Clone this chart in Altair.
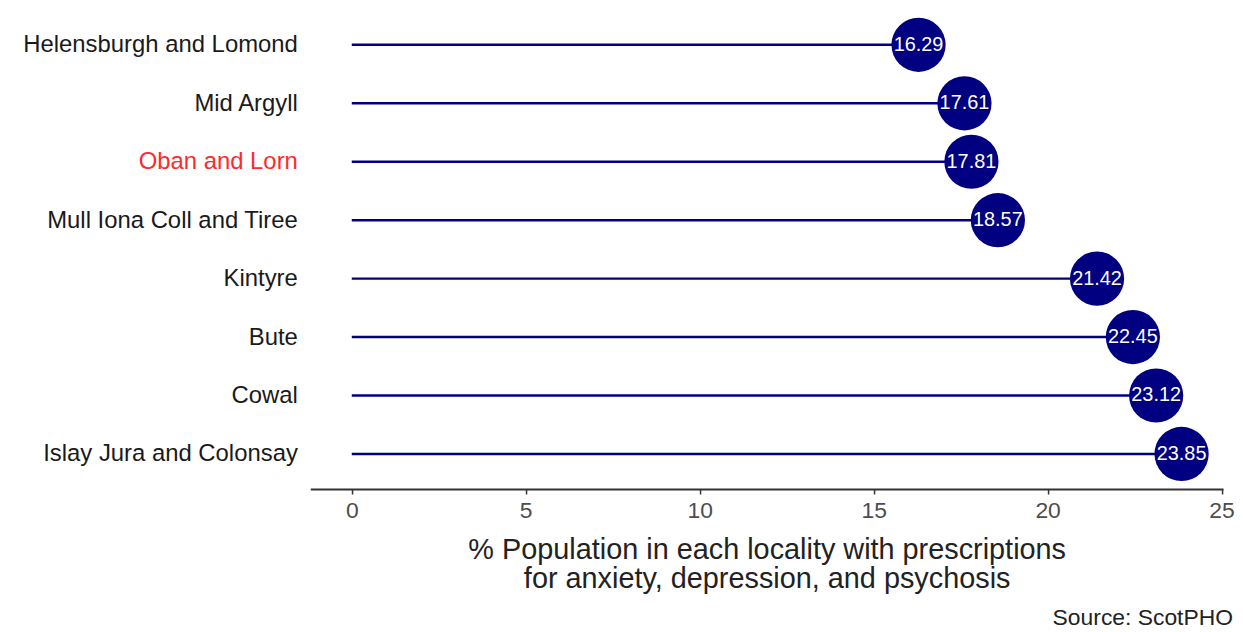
import altair as alt
import pandas as pd

localities = [
    "Helensburgh and Lomond",
    "Mid Argyll",
    "Oban and Lorn",
    "Mull Iona Coll and Tiree",
    "Kintyre",
    "Bute",
    "Cowal",
    "Islay Jura and Colonsay",
]
values = [16.29, 17.61, 17.81, 18.57, 21.42, 22.45, 23.12, 23.85]
x_ticks = [0, 5, 10, 15, 20, 25]
highlight = "Oban and Lorn"

df = pd.DataFrame({"locality": localities, "value": values, "zero": [0] * len(values)})
df["label"] = df["value"].map(lambda v: f"{v:.2f}")

FONT = "Liberation Sans"
NAVY = "#000080"

x_scale = alt.Scale(domain=[-1.1925, 25.0425], nice=False, zero=False)
y_scale = alt.Scale(type="point", padding=0.6)

y_enc = alt.Y(
    "locality:N",
    sort=localities,
    scale=y_scale,
    title=None,
    axis=alt.Axis(
        domain=False,
        ticks=False,
        grid=False,
        labelFont=FONT,
        labelFontSize=24,
        labelPadding=13,
        labelLimit=500,
        labelColor=alt.condition(
            f"datum.value == '{highlight}'", alt.value("#ff2a2a"), alt.value("#1a1a1a")
        ),
    ),
)

x_axis = alt.Axis(
    values=x_ticks,
    grid=False,
    domainColor="#333333",
    domainWidth=2,
    tickColor="#333333",
    tickWidth=1.5,
    tickSize=5,
    labelFont=FONT,
    labelFontSize=23,
    labelColor="#4d4d4d",
    labelPadding=6,
    titleFont=FONT,
    titleFontSize=29,
    titleFontWeight="normal",
    titleColor="#222222",
    titlePadding=13,
    titleLineHeight=29,
)

base = alt.Chart(df)

rules = base.mark_rule(color=NAVY, strokeWidth=2.5).encode(
    x=alt.X(
        "zero:Q",
        scale=x_scale,
        axis=x_axis,
        title=[
            "% Population in each locality with prescriptions",
            "for anxiety, depression, and psychosis",
        ],
    ),
    x2="value:Q",
    y=y_enc,
)

points = base.mark_circle(color=NAVY, opacity=1, size=2970).encode(
    x=alt.X("value:Q", scale=x_scale),
    y=alt.Y("locality:N", sort=localities, scale=y_scale),
)

labels = base.mark_text(color="white", font=FONT, fontSize=20).encode(
    x=alt.X("value:Q", scale=x_scale),
    y=alt.Y("locality:N", sort=localities, scale=y_scale),
    text="label:N",
)

chart = (
    alt.layer(rules, points, labels)
    .properties(
        width=918,
        height=482,
        background="white",
        padding={"left": 14, "top": 0, "right": 0, "bottom": 0},
        title=alt.TitleParams(
            text="Source: ScotPHO",
            orient="bottom",
            anchor="end",
            frame="group",
            font=FONT,
            fontSize=23,
            fontWeight="normal",
            color="#222222",
            offset=14,
            dx=10,
        ),
    )
    .configure_view(stroke=None, strokeWidth=0)
)

chart.save("out.html", embed_options={"renderer": "svg", "actions": False})
